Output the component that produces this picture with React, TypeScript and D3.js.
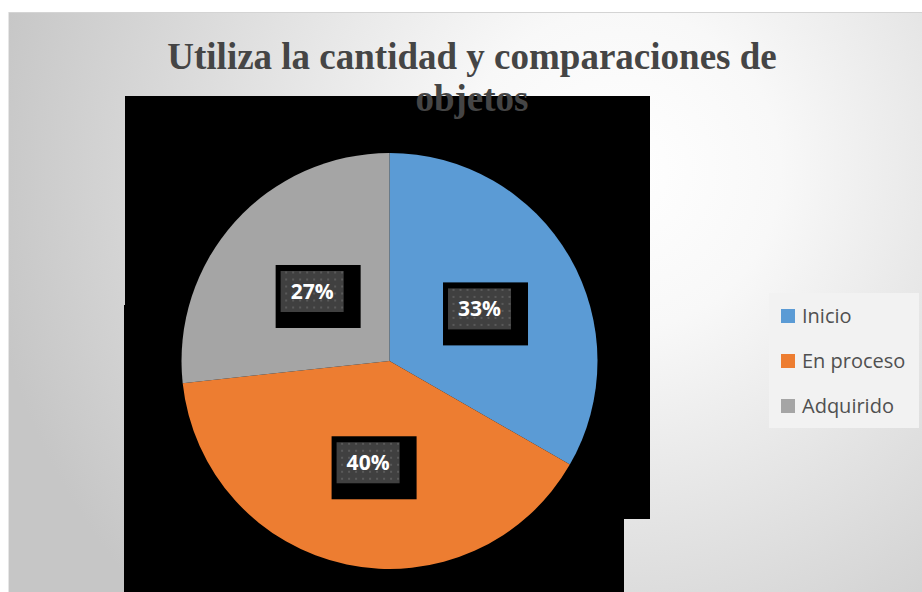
import React from "react";
import * as d3 from "d3";

const categories = ["Inicio", "En proceso", "Adquirido"];
const values = [33.3, 40, 26.7];
const labels = ["33%", "40%", "27%"];
const colors = ["#5b9bd5", "#ed7d31", "#a5a5a5"];
const titleLines = ["Utiliza la cantidad y comparaciones de", "objetos"];

const W = 922;
const H = 592;

export default function App() {
  const cx = 389.5;
  const cy = 361;
  const r = 208;
  const pie = d3.pie<number>().sort(null).value((d) => d)(values);
  const arc = d3.arc<d3.PieArcDatum<number>>().innerRadius(0).outerRadius(r);

  const legendY = d3.scalePoint<string>().domain(categories).range([316, 406]);

  return (
    <svg
      width={W}
      height={H}
      style={{ position: "absolute", left: 0, top: 0, display: "block" }}
    >
      <defs>
        <radialGradient id="bg" gradientUnits="userSpaceOnUse" cx={620} cy={170} r={640}>
          <stop offset="0" stopColor="#ffffff" />
          <stop offset="0.25" stopColor="#f8f8f8" />
          <stop offset="1" stopColor="#c6c6c6" />
        </radialGradient>
        <pattern id="dots" patternUnits="userSpaceOnUse" width={7} height={7}>
          <rect width={7} height={7} fill="#404040" />
          <rect x={1} y={1} width={2} height={2} fill="#5a5a5a" />
        </pattern>
      </defs>
      <rect x={0} y={0} width={W} height={H} fill="#ffffff" />
      <rect x={8} y={12} width={W - 8} height={H - 12} fill="url(#bg)" />
      <line x1={8} y1={12.5} x2={W} y2={12.5} stroke="#d4d4d4" strokeWidth={1} />
      <line x1={8.5} y1={12} x2={8.5} y2={H} stroke="#e6e6e6" strokeWidth={1} />

      <path
        d="M125,96 L650,96 L650,519 L624,519 L624,592 L124,592 L124,305 L125,305 Z"
        fill="#000000"
      />

      <g transform={`translate(${cx},${cy})`}>
        {pie.map((p, i) => (
          <path key={categories[i]} d={arc(p) as string} fill={colors[i]} />
        ))}
        {pie.map((p, i) => {
          const [lx, ly] = arc.centroid(p);
          return (
            <g key={"l" + i} transform={`translate(${lx},${ly})`}>
              <rect x={-36.5} y={-26.5} width={85} height={63} fill="#000" />
              <rect x={-31.5} y={-20.5} width={63} height={41} fill="url(#dots)" />
              <text
                x={0}
                y={0}
                dy="0.36em"
                textAnchor="middle"
                fill="#ffffff"
                fontFamily="'Open Sans', sans-serif"
                fontWeight={700}
                fontSize={21}
              >
                {labels[i]}
              </text>
            </g>
          );
        })}
      </g>

      <g
        fontFamily="'Liberation Serif', 'Times New Roman', serif"
        fontWeight={700}
        fontSize={37}
        fill="#454545"
        textAnchor="middle"
      >
        {titleLines.map((t, i) => (
          <text key={t} x={472} y={69 + i * 42}>
            {t}
          </text>
        ))}
      </g>

      <rect x={769} y={293} width={150} height={135} fill="#f2f2f2" />
      {categories.map((c, i) => {
        const y = legendY(c) as number;
        return (
          <g key={c}>
            <rect x={781} y={y - 7} width={14} height={14} fill={colors[i]} />
            <text
              x={802}
              y={y}
              dy="0.36em"
              fill="#505050"
              fontFamily="'Open Sans', sans-serif"
              fontSize={20}
            >
              {c}
            </text>
          </g>
        );
      })}
    </svg>
  );
}
